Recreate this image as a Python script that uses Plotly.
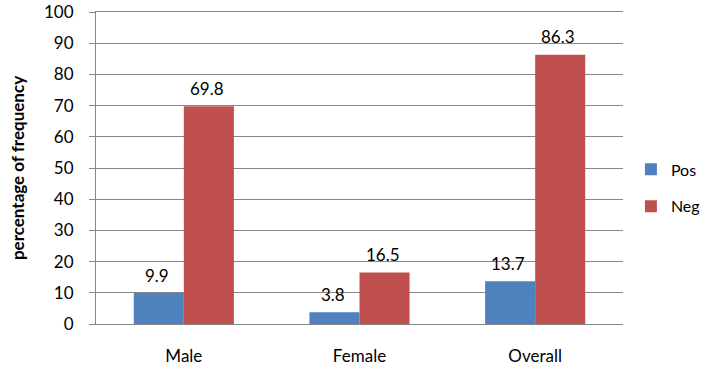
import plotly.graph_objects as go

categories = ["Male", "Female", "Overall"]
pos_values = [9.9, 3.8, 13.7]
neg_values = [69.8, 16.5, 86.3]
pos_labels = ["9.9", "3.8", "13.7"]
neg_labels = ["69.8", "16.5", "86.3"]
y_ticks = [0, 10, 20, 30, 40, 50, 60, 70, 80, 90, 100]

FONT = "Lato"
fig = go.Figure()
fig.add_trace(go.Bar(name="Pos", x=categories, y=pos_values, marker_color="#4F81BD",
                     marker_line_width=0, legendgroup="a"))
fig.add_trace(go.Bar(name="Neg", x=categories, y=neg_values, marker_color="#C0504D",
                     marker_line_width=0, legendgroup="b"))

for vals, labs, dx in ((pos_values, pos_labels, -25), (neg_values, neg_labels, 25)):
    for c, v, t in zip(categories, vals, labs):
        fig.add_annotation(x=c, y=v, text=t, showarrow=False, xshift=dx - 2,
                           yshift=18, font=dict(size=17, color="black", family=FONT))

fig.update_layout(
    width=712, height=370,
    margin=dict(l=96, r=89, t=12, b=46, autoexpand=False),
    paper_bgcolor="white", plot_bgcolor="white",
    barmode="group", bargap=0.43, bargroupgap=0,
    font=dict(family=FONT, size=17, color="black"),
    legend=dict(x=1.015, y=0.436, xanchor="left", yanchor="middle",
                font=dict(size=16, family=FONT), tracegroupgap=13,
                itemwidth=30, bgcolor="rgba(0,0,0,0)"),
    xaxis=dict(showline=True, mirror=True, linecolor="#888888", linewidth=1, ticks="",
               ticklabelstandoff=17, tickfont=dict(size=17), showgrid=False),
    yaxis=dict(range=[0, 100], tickvals=y_ticks, showline=True, linecolor="#888888",
               linewidth=1, ticks="outside", ticklen=6, tickcolor="#888888",
               showgrid=True, gridcolor="#888888", gridwidth=1, zeroline=False,
               tickfont=dict(size=17), ticklabelstandoff=12,
               title=dict(text="<b>percentage of frequency</b>", font=dict(size=17), standoff=15)),
)
fig.write_html("out.html", config={"displayModeBar": False},
               post_script="document.body.style.margin='0';")
